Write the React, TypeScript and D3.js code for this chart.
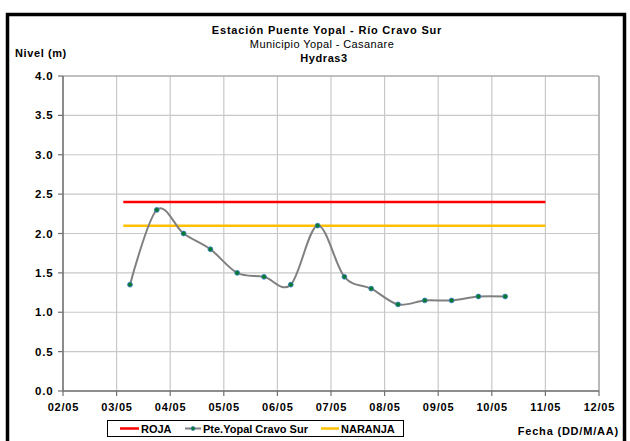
import React from "react";
import * as d3 from "d3";

const seriesTimes = [
  "03/05 06", "03/05 18", "04/05 06", "04/05 18", "05/05 06", "05/05 18",
  "06/05 06", "06/05 18", "07/05 06", "07/05 18", "08/05 06", "08/05 18",
  "09/05 06", "09/05 18", "10/05 06",
];
const seriesValues = [1.35, 2.3, 2.0, 1.8, 1.5, 1.45, 1.35, 2.1, 1.45, 1.3, 1.1, 1.15, 1.15, 1.2, 1.2];
const rojaTimes = ["03/05 03", "11/05 00"];
const rojaValues = [2.4, 2.4];
const naranjaTimes = ["03/05 03", "11/05 00"];
const naranjaValues = [2.1, 2.1];
const xTickLabels = ["02/05", "03/05", "04/05", "05/05", "06/05", "07/05", "08/05", "09/05", "10/05", "11/05", "12/05"];
const yTicks = [0, 0.5, 1, 1.5, 2, 2.5, 3, 3.5, 4];

const parse = d3.timeParse("%d/%m/%Y %H");
const toDate = (s: string) => {
  const [dm, h] = s.split(" ");
  return parse(`${dm}/2013 ${h}`) as Date;
};
const toDay = (s: string) => parse(`${s}/2013 00`) as Date;

const FONT = "Liberation Sans, Arial, sans-serif";

export default function App() {
  const left = 63, right = 599, top = 76, bottom = 391;
  const x = d3.scaleTime().domain([toDay(xTickLabels[0]), toDay(xTickLabels[xTickLabels.length - 1])]).range([left, right]);
  const y = d3.scaleLinear().domain([0, 4]).range([bottom, top]);

  const pts = seriesTimes.map((t, i) => [x(toDate(t)), y(seriesValues[i])] as [number, number]);
  const line = d3.line<[number, number]>().curve(d3.curveCatmullRom.alpha(0));
  const straight = d3.line<[number, number]>();
  const roja = rojaTimes.map((t, i) => [x(toDate(t)), y(rojaValues[i])] as [number, number]);
  const naranja = naranjaTimes.map((t, i) => [x(toDate(t)), y(naranjaValues[i])] as [number, number]);

  return (
    <svg width={630} height={441} style={{ position: "absolute", left: 0, top: 0 }} fontFamily={FONT}>
      <rect x={0} y={0} width={630} height={441} fill="#fff" />
      <rect x={7.5} y={14.5} width={617} height={440} fill="none" stroke="#000" strokeWidth={3.5} />

      {/* grid */}
      {yTicks.map((v) => (
        <line key={"h" + v} x1={left} x2={right} y1={y(v)} y2={y(v)} stroke="#c8c8c8" strokeWidth={1.2} />
      ))}
      {xTickLabels.map((d) => (
        <line key={"v" + d} x1={x(toDay(d))} x2={x(toDay(d))} y1={top} y2={bottom} stroke="#c8c8c8" strokeWidth={1.2} />
      ))}
      <line x1={left} x2={right} y1={top} y2={top} stroke="#a0a0a0" strokeWidth={1.2} />
      <line x1={right} x2={right} y1={top} y2={bottom} stroke="#a0a0a0" strokeWidth={1.2} />

      {/* axes */}
      <line x1={left} x2={left} y1={top} y2={bottom} stroke="#707070" strokeWidth={1.5} />
      <line x1={left} x2={right} y1={bottom} y2={bottom} stroke="#707070" strokeWidth={1.5} />
      {yTicks.map((v) => (
        <g key={"yt" + v}>
          <line x1={left - 5} x2={left} y1={y(v)} y2={y(v)} stroke="#707070" strokeWidth={1.2} />
          <text x={53.5} y={y(v)} dy="0.35em" textAnchor="end" fontSize={11.5} fontWeight="bold" letterSpacing={0.8}>
            {v.toFixed(1)}
          </text>
        </g>
      ))}
      {xTickLabels.map((d) => (
        <g key={"xt" + d}>
          <line x1={x(toDay(d))} x2={x(toDay(d))} y1={bottom} y2={bottom + 5} stroke="#707070" strokeWidth={1.2} />
          <text x={x(toDay(d)) + 0.4} y={410.5} textAnchor="middle" fontSize={11} fontWeight="bold" letterSpacing={0.8}>
            {d}
          </text>
        </g>
      ))}

      {/* thresholds */}
      <path d={straight(roja) || ""} stroke="#ff0000" strokeWidth={2.5} fill="none" />
      <path d={straight(naranja) || ""} stroke="#ffc000" strokeWidth={2.5} fill="none" />

      {/* series */}
      <path d={line(pts) || ""} stroke="#808080" strokeWidth={2} fill="none" />
      {pts.map((p, i) => (
        <circle key={"p" + i} cx={p[0]} cy={p[1]} r={2.4} fill="#0a7a2a" stroke="#3a7fc0" strokeWidth={0.9} />
      ))}

      {/* titles */}
      <text x={327} y={34.3} textAnchor="middle" fontSize={11} fontWeight="bold" letterSpacing={0.8}>Estación Puente Yopal - Río Cravo Sur</text>
      <text x={322} y={48.3} textAnchor="middle" fontSize={11} letterSpacing={0.4}>Municipio Yopal - Casanare</text>
      <text x={324} y={62.3} textAnchor="middle" fontSize={11} fontWeight="bold" letterSpacing={0.6}>Hydras3</text>
      <text x={15} y={57} fontSize={11} fontWeight="bold" letterSpacing={0.6}>Nivel (m)</text>
      <text x={619} y={435} textAnchor="end" fontSize={11} fontWeight="bold" letterSpacing={0.8}>Fecha (DD/M/AA)</text>

      {/* legend */}
      <rect x={107.5} y={420.5} width={296} height={16} fill="#fff" stroke="#000" strokeWidth={1} />
      <line x1={120} x2={139} y1={428.5} y2={428.5} stroke="#ff0000" strokeWidth={2.5} />
      <text x={141} y={432.5} fontSize={11} fontWeight="bold">ROJA</text>
      <line x1={185} x2={201} y1={428.5} y2={428.5} stroke="#808080" strokeWidth={2} />
      <circle cx={193} cy={428.5} r={2} fill="#0a7a2a" stroke="#3a7fc0" strokeWidth={0.8} />
      <text x={203} y={432.5} fontSize={11} fontWeight="bold">Pte.Yopal Cravo Sur</text>
      <line x1={321} x2={339} y1={428.5} y2={428.5} stroke="#ffc000" strokeWidth={2.5} />
      <text x={341} y={432.5} fontSize={11} fontWeight="bold">NARANJA</text>
    </svg>
  );
}
